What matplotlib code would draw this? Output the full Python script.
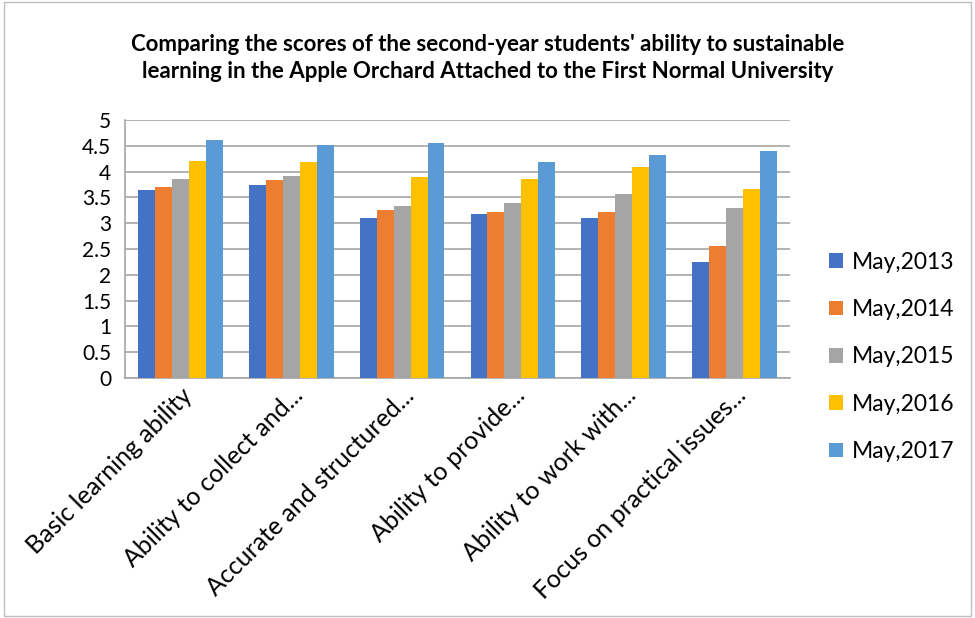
import matplotlib.pyplot as plt
import numpy as np

plt.rcParams.update({"font.family": ["Lato", "DejaVu Sans"]})

categories = [
    "Basic learning ability",
    "Ability to collect and...",
    "Accurate and structured...",
    "Ability to provide...",
    "Ability to work with...",
    "Focus on practical issues...",
]
series_names = ["May,2013", "May,2014", "May,2015", "May,2016", "May,2017"]
may_2013 = [3.65, 3.75, 3.11, 3.18, 3.11, 2.24]
may_2014 = [3.70, 3.83, 3.25, 3.22, 3.22, 2.56]
may_2015 = [3.85, 3.92, 3.34, 3.40, 3.56, 3.29]
may_2016 = [4.21, 4.19, 3.90, 3.86, 4.09, 3.66]
may_2017 = [4.62, 4.52, 4.56, 4.19, 4.32, 4.39]
colors = ["#4472C4", "#ED7D31", "#A5A5A5", "#FFC000", "#5B9BD5"]

fig = plt.figure(figsize=(9.75, 6.18), dpi=100)
ax = fig.add_axes([125 / 975, 1 - 378 / 618, 665 / 975, 258 / 618])

x = np.arange(len(categories))
w = 0.153
for i, (vals, name) in enumerate(
    zip([may_2013, may_2014, may_2015, may_2016, may_2017], series_names)
):
    ax.bar(x + (i - 2) * w, vals, w, color=colors[i], label=name, zorder=3)

ax.set_xlim(-0.5, len(categories) - 0.5)
ax.set_ylim(0, 5)
ax.set_yticks(np.arange(0, 5.01, 0.5))
ax.set_yticklabels(["0", "0.5", "1", "1.5", "2", "2.5", "3", "3.5", "4", "4.5", "5"])
ax.yaxis.grid(True, color="#A6A6A6", linewidth=1.2, zorder=0)
ax.tick_params(axis="x", length=0, labelsize=18, pad=4)
ax.tick_params(axis="y", length=0, labelsize=15, pad=10)
ax.set_xticks(x)
ax.set_xticklabels(categories, rotation=45, ha="right", rotation_mode="anchor")
for s in ["top", "right"]:
    ax.spines[s].set_visible(False)
for s in ["left", "bottom"]:
    ax.spines[s].set_color("#A6A6A6")
    ax.spines[s].set_linewidth(1.2)

fig.text(
    0.5,
    1 - 58 / 618,
    "Comparing the scores of the second-year students' ability to sustainable\n"
    "learning in the Apple Orchard Attached to the First Normal University",
    ha="center",
    va="center",
    fontsize=16,
    fontweight="bold",
    linespacing=1.35,
)

fig.legend(
    loc="center left",
    bbox_to_anchor=(829 / 975, 1 - 357 / 618),
    frameon=False,
    borderpad=0,
    borderaxespad=0,
    fontsize=16.5,
    handlelength=0.6,
    handleheight=0.6,
    handletextpad=0.4,
    labelspacing=1.15,
)

fig.patches.append(
    plt.Rectangle(
        (0.004, 0.003), 0.992, 0.994, transform=fig.transFigure,
        fill=False, edgecolor="#BFBFBF", linewidth=1,
    )
)

fig.savefig("out.png", dpi=100)
